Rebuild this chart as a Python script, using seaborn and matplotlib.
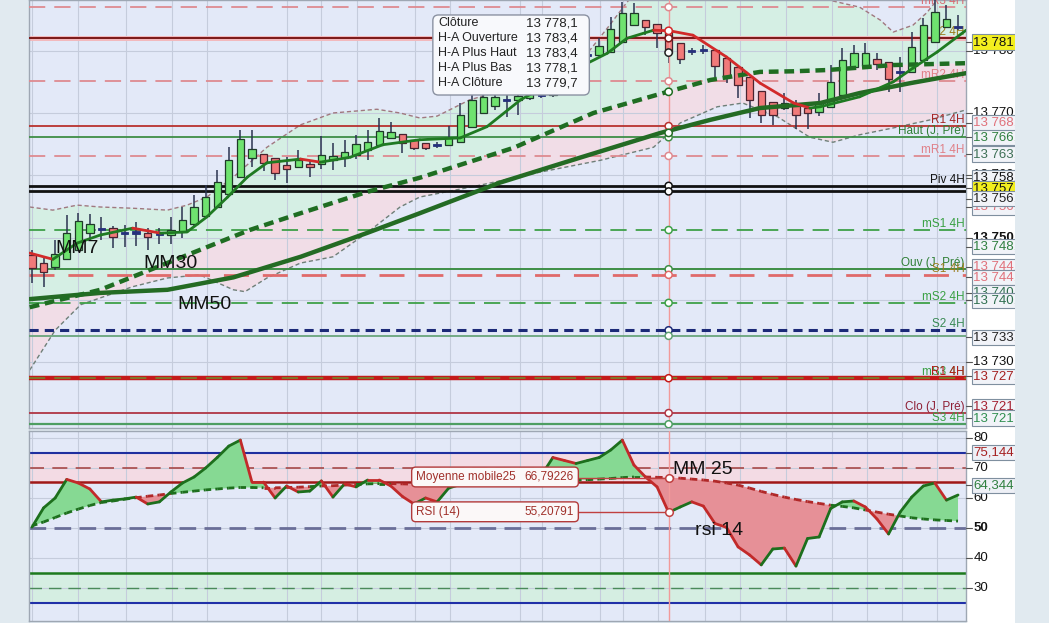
import numpy as np
import matplotlib
matplotlib.use("Agg")
import matplotlib.pyplot as plt
from matplotlib.patches import FancyBboxPatch
import seaborn as sns

# ---------------- Heikin-Ashi candles (one per bar index) ----------------
opens = [13747.2, 13745.9, 13745.3, 13746.5, 13748.0, 13750.7, 13751.2, 13751.5, 13750.6, 13750.6,
         13750.7, 13750.4, 13750.4, 13750.9, 13752.2, 13753.5, 13754.9, 13757.0, 13759.7, 13762.8,
         13763.4, 13762.8, 13761.6, 13761.3, 13761.8, 13761.8, 13762.5, 13762.8, 13763.3, 13764.1,
         13764.9, 13766.0, 13766.6, 13765.7, 13765.2, 13764.7, 13764.9, 13765.3, 13767.8, 13770.0,
         13771.1, 13771.9, 13772.1, 13772.4, 13772.7, 13772.9, 13773.7, 13778.8, 13779.2, 13779.3,
         13779.8, 13781.4, 13784.1, 13784.9, 13784.3, 13783.4, 13781.2, 13780.1, 13780.0, 13780.1,
         13778.8, 13777.4, 13775.8, 13773.5, 13771.8, 13770.8, 13771.1, 13770.8, 13770.2, 13771.0,
         13772.9, 13777.4, 13777.7, 13778.7, 13778.2, 13776.4, 13776.6, 13778.5, 13781.4, 13783.8,
         13783.6]
highs = [13748.0, 13746.9, 13749.6, 13753.6, 13753.9, 13753.8, 13753.3, 13751.9, 13752.0, 13752.5,
         13751.5, 13751.5, 13753.3, 13754.9, 13756.8, 13758.4, 13760.8, 13764.5, 13767.3, 13767.3,
         13763.4, 13762.8, 13762.9, 13764.1, 13762.3, 13766.3, 13765.2, 13765.7, 13766.5, 13767.3,
         13769.2, 13768.6, 13766.6, 13765.7, 13765.2, 13765.3, 13767.9, 13771.6, 13772.9, 13773.4,
         13773.2, 13772.9, 13773.4, 13773.4, 13773.7, 13774.5, 13778.8, 13780.1, 13781.2, 13782.1,
         13785.4, 13787.8, 13787.7, 13784.9, 13784.3, 13783.4, 13781.2, 13780.4, 13780.9, 13780.1,
         13778.8, 13777.4, 13775.8, 13773.5, 13771.8, 13773.2, 13772.1, 13771.1, 13773.2, 13777.7,
         13780.4, 13780.9, 13781.2, 13779.6, 13778.2, 13779.0, 13783.0, 13785.3, 13788.2, 13787.4,
         13785.7]
lows = [13742.7, 13742.1, 13744.8, 13746.4, 13748.0, 13749.6, 13749.6, 13748.3, 13748.5, 13748.6,
        13748.0, 13749.0, 13749.0, 13749.9, 13751.9, 13753.1, 13754.7, 13756.8, 13759.6, 13761.3,
        13760.7, 13759.2, 13758.8, 13761.3, 13759.7, 13761.0, 13760.8, 13761.3, 13762.6, 13762.5,
        13764.9, 13766.0, 13763.6, 13764.1, 13764.1, 13764.4, 13764.9, 13765.3, 13767.8, 13770.0,
        13770.5, 13769.4, 13769.7, 13772.1, 13772.4, 13772.6, 13773.4, 13777.7, 13777.4, 13779.3,
        13779.8, 13781.4, 13784.1, 13782.5, 13780.4, 13778.1, 13777.9, 13779.3, 13779.5, 13775.8,
        13774.8, 13772.4, 13769.2, 13768.4, 13768.1, 13770.5, 13767.4, 13767.4, 13769.5, 13771.0,
        13772.9, 13777.4, 13777.7, 13776.9, 13773.4, 13773.4, 13776.6, 13778.5, 13781.4, 13783.8,
        13783.3]
closes = [13745.1, 13744.5, 13747.4, 13750.7, 13752.7, 13752.2, 13751.5, 13750.1, 13750.9, 13751.0,
          13750.1, 13750.7, 13751.2, 13752.8, 13754.9, 13756.5, 13758.9, 13762.5, 13765.8, 13764.2,
          13762.0, 13760.4, 13761.0, 13762.5, 13761.3, 13763.3, 13763.1, 13763.7, 13765.0, 13765.3,
          13767.1, 13767.0, 13765.2, 13764.4, 13764.4, 13765.0, 13766.0, 13769.7, 13772.1, 13772.6,
          13772.6, 13772.3, 13772.7, 13773.1, 13773.1, 13774.0, 13777.9, 13779.2, 13779.5, 13780.8,
          13783.5, 13786.1, 13786.1, 13783.8, 13782.9, 13779.7, 13778.7, 13779.8, 13780.3, 13777.6,
          13775.9, 13774.5, 13772.1, 13769.7, 13769.7, 13771.6, 13769.7, 13770.0, 13771.6, 13775.0,
          13778.5, 13779.6, 13779.6, 13777.9, 13775.5, 13776.7, 13780.6, 13784.1, 13786.2, 13785.1,
          13784.0]

# ---------------- moving averages / bands (bar index, price) ----------------
mm7_x = [-0.2, 1.8, 3.9, 5.9, 8.7, 11.1, 13.4, 15.1, 16.9, 18.6, 20.3, 23.2, 24.9, 27.5, 30.3, 33.5,
         37.0, 39.3, 42.2, 46.5, 49.7, 51.4, 53.7, 55.1, 57.1, 60.0, 62.9, 65.8, 67.2, 68.1, 71.5,
         74.4, 76.1, 78.2, 80.7]
mm7_y = [13747.5, 13746.5, 13749.1, 13750.4, 13751.5, 13750.7, 13750.9, 13753.3, 13756.5, 13759.7,
         13762.0, 13762.6, 13762.1, 13762.9, 13764.9, 13765.7, 13766.0, 13767.8, 13772.1, 13776.6,
         13779.6, 13782.0, 13783.3, 13783.2, 13782.5, 13779.0, 13774.8, 13771.6, 13770.8, 13771.0,
         13772.6, 13775.0, 13777.2, 13779.8, 13783.3]
mm30_x = [-0.2, 5.9, 10.2, 14.5, 18.8, 23.2, 28.9, 33.5, 41.6, 48.5, 54.9, 58.6, 62.9, 65.8, 68.7, 74.4, 80.7]
mm30_y = [13738.8, 13741.6, 13744.8, 13748.0, 13751.2, 13753.9, 13757.3, 13759.6, 13764.4, 13770.0,
          13773.4, 13775.3, 13776.6, 13776.7, 13776.9, 13777.7, 13778.0]
mm50_x = [-0.2, 5.9, 11.7, 17.4, 23.2, 28.9, 33.5, 40.4, 47.3, 54.3, 58.6, 62.9, 68.1, 71.5, 75.9, 80.7]
mm50_y = [13740.1, 13741.1, 13741.6, 13743.6, 13746.9, 13750.7, 13753.9, 13758.8, 13762.8, 13766.8,
          13768.9, 13770.8, 13771.6, 13773.2, 13774.8, 13776.4]
up_x = [-0.2, 1.8, 3.9, 5.9, 8.7, 11.7, 13.4, 15.1, 17.4, 20.3, 23.2, 26.0, 29.8, 31.8, 33.5, 35.0,
        37.8, 42.2, 45.6, 48.2, 49.9, 51.2, 54.3, 62.9, 68.7, 71.5, 73.3, 74.4, 76.1, 77.3, 78.2, 80.7]
up_y = [13754.9, 13754.4, 13755.2, 13754.9, 13754.7, 13754.4, 13755.2, 13756.5, 13759.7, 13764.5,
        13768.1, 13770.0, 13770.6, 13770.0, 13769.2, 13769.5, 13772.1, 13774.5, 13777.2, 13780.1,
        13784.1, 13787.3, 13794.6, 13794.6, 13788.2, 13787.0, 13784.9, 13783.0, 13784.1, 13786.1,
        13788.2, 13792.0]
lo_x = [-0.2, 2.0, 4.2, 5.9, 8.7, 11.7, 14.5, 17.4, 18.4, 20.3, 23.2, 26.0, 28.9, 31.8, 33.5, 38.7,
        43.9, 49.1, 53.7, 56.0, 59.2, 61.4, 64.4, 67.2, 69.2, 71.5, 74.4, 77.6, 80.7]
lo_y = [13728.7, 13735.1, 13739.2, 13740.3, 13742.1, 13743.5, 13744.0, 13741.6, 13741.3, 13743.5,
        13745.9, 13746.9, 13750.7, 13754.9, 13756.5, 13758.4, 13760.5, 13762.4, 13764.5, 13768.4,
        13771.0, 13771.6, 13769.4, 13766.1, 13765.3, 13766.5, 13767.6, 13768.9, 13770.5]

# ---------------- pivot / reference levels ----------------
level_vals = [13787.0, 13782.0, 13775.1, 13767.9, 13766.1, 13763.1, 13758.3, 13757.4, 13751.2,
              13744.9, 13744.0, 13739.5, 13735.1, 13734.2, 13727.4, 13721.8, 13720.0]
level_names = ["mR3 4H", "R2 4H", "mR2 4H", "R1 4H", "Haut (J, Pré)", "mR1 4H", "Piv 4H", "",
               "mS1 4H", "Ouv (J, Pré)", "S1 4H", "mS2 4H", "S2 4H", "", "R1 4H", "Clo (J, Pré)", "S3 4H"]

# right-hand price boxes
box_vals = [13781.4, 13768.4, 13766.1, 13763.4, 13759.6, 13757.9, 13754.9, 13756.2, 13748.5,
            13745.3, 13743.6, 13741.1, 13739.9, 13734.0, 13727.7, 13722.9, 13721.0]
box_texts = ["13 781,7", "13 768,4", "13 766,1", "13 763,0", "13 758,3", "13 757,4", "13 756,0",
             "13 756,5", "13 748,5", "13 744,9", "13 744,0", "13 740,0", "13 740,1", "13 733,8",
             "13 727,4", "13 721,8", "13 721,6"]
price_ticks = [13780, 13770, 13760, 13750, 13740, 13730]

# tooltip
tip_names = ["Clôture", "H-A Ouverture", "H-A Plus Haut", "H-A Plus Bas", "H-A Clôture"]
tip_values = ["13 778,1", "13 783,4", "13 783,4", "13 778,1", "13 779,7"]
cross_bar = 55
cross_marks = [13783.2, 13773.4, 13766.8, 13779.7]   # MM7, MM30, MM50, close at crosshair

# ---------------- RSI panel ----------------
rsi_vals = [50.3, 56.7, 60.0, 66.2, 65.0, 63.0, 58.7, 59.3, 59.7, 60.3,
            58.0, 58.7, 62.0, 65.0, 67.0, 70.0, 73.5, 77.3, 79.3, 65.3,
            65.3, 60.0, 64.0, 62.0, 62.3, 65.7, 60.3, 64.7, 63.7, 66.0,
            66.0, 64.0, 60.5, 58.0, 60.0, 58.7, 63.3, 64.5, 65.5, 65.0,
            66.0, 66.5, 67.0, 67.3, 67.5, 73.5, 72.5, 71.5, 72.5, 73.5,
            76.0, 79.3, 71.0, 67.0, 63.7, 55.2, 57.0, 58.7, 57.3, 51.5,
            50.2, 43.7, 41.0, 37.7, 43.0, 43.3, 37.3, 46.5, 47.0, 56.5,
            58.7, 59.0, 57.0, 53.0, 48.0, 55.3, 60.3, 64.0, 65.0, 59.3,
            61.0]
mm25_vals = [50.7, 52.0, 53.5, 55.0, 56.3, 57.5, 58.5, 59.0, 59.6, 60.1,
             60.6, 61.0, 61.5, 61.9, 62.3, 62.7, 63.0, 63.3, 63.5, 63.5,
             63.4, 63.4, 63.5, 63.6, 63.8, 64.0, 64.1, 64.3, 64.5, 64.7,
             64.8, 64.8, 64.7, 64.6, 64.6, 64.7, 64.9, 65.0, 65.1, 65.2,
             65.3, 65.4, 65.5, 65.6, 65.7, 65.8, 65.9, 66.0, 66.1, 66.3,
             66.5, 66.8, 67.0, 67.0, 66.9, 66.8, 66.6, 66.3, 66.0, 65.6,
             65.0, 64.3, 63.3, 62.2, 61.2, 60.3, 59.5, 58.8, 58.2, 57.6,
             57.2, 56.7, 56.0, 55.3, 54.6, 54.0, 53.4, 53.0, 52.7, 52.5,
             52.3]
rsi_ticks = [80, 70, 60, 50, 40, 30]
rsi_box_vals = [75.1, 64.3]
rsi_box_texts = ["75,144", "64,344"]
grid_idx = [0, 4, 8.1, 12.1, 15.1, 22, 25, 28.1, 33.1, 36.1, 42.2, 44.1, 49.1, 51.1, 54.1,
            58.1, 61.2, 65.1, 69.1, 72.1, 75.2, 78.2]

# ---------------- styling ----------------
sns.set_theme(style="white")
plt.rcParams["font.family"] = ["Liberation Sans", "DejaVu Sans"]

DASH = (0, (9, 5))
SDASH = (0, (3, 2))
level_colors = ["#de8a90", "#7a1818", "#de8a90", "#b8322f", "#3e8e46", "#de8a90", "#111111", "#111111",
                "#3ea048", "#3e8e46", "#e06a6a", "#3ea048", "#1c2a78", "#5f9f72", "#c41a1a", "#b03545",
                "#4e9e62"]
level_ls = [DASH, "-", DASH, "-", "-", DASH, "-", "-", DASH, "-", DASH, DASH, SDASH, "-", "-", "-", "-"]
level_lw = [1.3, 1.4, 1.3, 1.3, 1.3, 1.3, 2.0, 2.0, 1.3, 1.4, 2.0, 1.3, 2.2, 1.2, 3.2, 1.3, 1.6]
name_colors = ["#d86c74", "#9a7d1e", "#e08088", "#a62626", "#2f7f35", "#e08088", "#111111", "#111111",
               "#39a043", "#2f7f35", "#9a7d1e", "#39a043", "#3a8a55", "#111111", "#b81c1c", "#8e1f35",
               "#39a043"]
box_txt_colors = ["#111111", "#e0707a", "#2f7f3f", "#3d6f55", "#111111", "#111111", "#e0707a", "#222222",
                  "#2f7f3f", "#e0707a", "#e0707a", "#2f6f4f", "#2f6f4f", "#222222", "#a52020", "#a52030",
                  "#2f8f4f"]
box_faces = ["#f3ef1e", "#f1f3f8", "#f1f3f8", "#f1f3f8", "#f1f3f8", "#f3ef1e", "#f1f3f8", "#f1f3f8",
             "#f1f3f8", "#f1f3f8", "#f1f3f8", "#f1f3f8", "#f1f3f8", "#f1f3f8", "#f1f3f8", "#f1f3f8",
             "#f1f3f8"]
GREEN_L = "#1f7a22"
RED_L = "#d22a2a"
BG = "#e3e9f8"

W, H = 1049, 623
fig = plt.figure(figsize=(W / 100, H / 100), dpi=100, facecolor="#e1eaf0")

white = fig.add_axes([966 / W, 0, 49 / W, 1])
white.set_facecolor("white")
white.set_xticks([])
white.set_yticks([])
for s in white.spines.values():
    s.set_visible(False)

ax = fig.add_axes([29 / W, 195 / H, 937 / W, 428 / H])
ax_r = fig.add_axes([29 / W, 2 / H, 937 / W, 190 / H])
lab = fig.add_axes([966 / W, 195 / H, 49 / W, 428 / H])
lab_r = fig.add_axes([966 / W, 2 / H, 49 / W, 190 / H])

for a in (ax, ax_r):
    a.set_facecolor(BG)
    a.set_xticks([])
    a.set_yticks([])
    for s in a.spines.values():
        s.set_color("#9ea7b3")
        s.set_linewidth(1)
    for g in grid_idx:
        a.axvline(g, color="#c5ccdc", lw=0.8, zorder=1.5)
    a.axvline(cross_bar, color="#f29a9a", lw=1, zorder=8)

# ---------------- main price panel ----------------
for t in price_ticks:
    ax.axhline(t, color="#c5ccdc", lw=0.8, zorder=1.5)

# bollinger fills: upper band -> MM30 mint, MM30 -> lower band pink
ax.fill(np.r_[up_x, mm30_x[::-1]], np.r_[up_y, mm30_y[::-1]], color="#d5efe4", lw=0, zorder=1)
ax.fill(np.r_[mm30_x, lo_x[::-1]], np.r_[mm30_y, lo_y[::-1]], color="#f1dde7", lw=0, zorder=1)
ax.plot(up_x, up_y, color="#a07880", lw=1, ls=SDASH, zorder=2)
ax.plot(lo_x, lo_y, color="#6f7f78", lw=1, ls=SDASH, zorder=2)

# levels
ax.axhline(level_vals[1], color="#f2b9bd", lw=3.6, zorder=2.5)
for v, c, ls, lw in zip(level_vals, level_colors, level_ls, level_lw):
    ax.axhline(v, color=c, ls=ls, lw=lw, zorder=3)
ax.axhline(level_vals[14], color="#7a7f2a", ls=DASH, lw=1.3, zorder=3.1)

ax.text(80.55, level_vals[14], "mS3 4H", ha="right", va="bottom", fontsize=8.5, color="#39a043", zorder=4)
for v, n, c in zip(level_vals, level_names, name_colors):
    if n:
        ax.text(80.55, v, n, ha="right", va="bottom", fontsize=8.5, color=c, zorder=4)

# candles
xi = np.arange(len(opens))
o, h, l, c = (np.array(a_) for a_ in (opens, highs, lows, closes))
body_lo = np.minimum(o, c)
body_h = np.abs(c - o)
doji = body_h < 0.45
up = (c > o) & ~doji
dn = (c < o) & ~doji
ax.vlines(xi, l, h, color="#2b3350", lw=1.1, zorder=5)
ax.bar(xi[up], body_h[up], bottom=body_lo[up], width=0.64, color="#6fe36f",
       edgecolor="#1f3a2a", lw=0.9, zorder=6)
ax.bar(xi[dn], body_h[dn], bottom=body_lo[dn], width=0.64, color="#f27a7a",
       edgecolor="#4a2430", lw=0.9, zorder=6)
mid = (o + c) / 2
ax.bar(xi[doji], 0.35, bottom=mid[doji] - 0.175, width=0.64, color="#26307c",
       edgecolor="#26307c", lw=0.6, zorder=6)

# moving averages
sns.lineplot(x=mm50_x, y=mm50_y, ax=ax, color="#246b24", lw=3.2, sort=False,
             errorbar=None, zorder=7)
ax.plot(mm30_x, mm30_y, color="#1f6d22", lw=3.2, ls=(0, (2.2, 1.3)), zorder=7)
for k in range(len(mm7_x) - 1):
    col = GREEN_L if mm7_y[k + 1] >= mm7_y[k] else RED_L
    ax.plot(mm7_x[k:k + 2], mm7_y[k:k + 2], color=col, lw=2, solid_capstyle="round", zorder=7.5)

# crosshair markers
ax.scatter([cross_bar] * len(level_vals), level_vals, s=26, facecolor="white",
           edgecolor=level_colors, lw=1.1, zorder=9)
ax.scatter([cross_bar] * len(cross_marks), cross_marks, s=28, facecolor="white",
           edgecolor=[RED_L, "#1f6d22", "#246b24", "#222222"], lw=1.1, zorder=9)

ax.text(2.0, 13748.2, "MM7", fontsize=14, va="center", color="#111111", zorder=10)
ax.text(9.6, 13745.8, "MM30", fontsize=14, va="center", color="#111111", zorder=10)
ax.text(12.6, 13739.2, "MM50", fontsize=14, va="center", color="#111111", zorder=10)

# tooltip
tip = FancyBboxPatch((0.431, 0.778), 0.167, 0.187, boxstyle="round,pad=0,rounding_size=0.006",
                     transform=ax.transAxes, fc="#f8f9fc", ec="#8b92a2", lw=1, zorder=20,
                     mutation_aspect=937 / 428)
ax.add_patch(tip)
for k, (n, v) in enumerate(zip(tip_names, tip_values)):
    yy = 0.946 - k * 0.035
    ax.text(0.4365, yy, n, transform=ax.transAxes, fontsize=9, va="center", color="#222222", zorder=21)
    ax.text(0.586, yy, v, transform=ax.transAxes, fontsize=9.5, va="center", ha="right",
            color="#222222", zorder=21)

# ---------------- RSI panel ----------------
for t in rsi_ticks:
    ax_r.axhline(t, color="#c5ccdc", lw=0.8, zorder=1.5)
ax_r.axhspan(65.3, 75.1, color="#f3dbe4", lw=0, zorder=1)
ax_r.axhspan(25, 35, color="#d5eee2", lw=0, zorder=1)
ax_r.axhline(75.1, color="#1f2f9f", lw=1.5, zorder=2)
ax_r.axhline(70, color="#a84848", lw=1.2, ls=DASH, zorder=2)
ax_r.axhline(65.3, color="#a01818", lw=1.8, zorder=2)
ax_r.axhline(50, color="#6a6e98", lw=2, ls=(0, (6, 3)), zorder=2)
ax_r.axhline(35, color="#1d7a1d", lw=1.8, zorder=2)
ax_r.axhline(30, color="#4a8a5a", lw=1, ls=DASH, zorder=2)
ax_r.axhline(25, color="#2030a8", lw=1.5, zorder=2)

rsi = np.array(rsi_vals)
mm = np.array(mm25_vals)
xr = np.arange(len(rsi))
ax_r.fill_between(xr, rsi, mm, where=rsi >= mm, interpolate=True, color="#86d993", lw=0, zorder=3)
ax_r.fill_between(xr, rsi, mm, where=rsi < mm, interpolate=True, color="#e69097", lw=0, zorder=3)
for k in range(len(xr) - 1):
    above = rsi[k] + rsi[k + 1] >= mm[k] + mm[k + 1]
    ax_r.plot(xr[k:k + 2], mm[k:k + 2], color="#1d6f1d" if above else "#b02828", lw=2,
              ls=(0, (2, 1.5)), zorder=4)
    col = "#1d6f1d" if rsi[k + 1] > rsi[k] else "#c22a2a"
    ax_r.plot(xr[k:k + 2], rsi[k:k + 2], color=col, lw=2, solid_capstyle="round", zorder=5)

# value boxes on the RSI crosshair
for name, val, yc in [("Moyenne mobile25", "66,79226", 66.8), ("RSI (14)", "55,20791", 55.2)]:
    ax_r.plot([47.2, cross_bar], [yc, yc], color="#c04040", lw=1, zorder=6)
    bx = FancyBboxPatch((32.8, yc + 0.2 - 3.3), 14.4, 6.6, boxstyle="round,pad=0,rounding_size=0.35",
                        mutation_aspect=3.86, fc="#fbf8f8", ec="#b23a3a", lw=1, zorder=7)
    ax_r.add_patch(bx)
    ax_r.text(33.2, yc + 0.2, name, fontsize=8.5, va="center", color="#a0302a", zorder=8)
    ax_r.text(46.8, yc + 0.2, val, fontsize=8.5, va="center", ha="right", color="#a0302a", zorder=8)
ax_r.scatter([cross_bar, cross_bar], [66.8, 55.2], s=30, facecolor="white", edgecolor="#c04040",
             lw=1.1, zorder=9)
ax_r.text(55.4, 69.5, "MM 25", fontsize=14, va="center", color="#111111", zorder=10)
ax_r.text(57.3, 49.3, "rsi 14", fontsize=14, va="center", color="#111111", zorder=10)

ax.set_xlim(-0.26, 80.69)
ax_r.set_xlim(-0.26, 80.69)
ax.set_ylim(13719.4, 13788.15)
ax_r.set_ylim(19.0, 82.33)
ax.set_xlabel("")
ax.set_ylabel("")

# ---------------- right-hand label columns ----------------
for a, src in ((lab, ax), (lab_r, ax_r)):
    a.axis("off")
    a.set_xlim(0, 1)
    a.set_ylim(src.get_ylim())

for t in price_ticks:
    lab.plot([0, 0.12], [t, t], color="#555555", lw=0.8, clip_on=True)
    lab.text(0.15, t, f"{t // 1000} {t % 1000:03d}", fontsize=9.5, va="center", color="#111111",
             fontweight="bold" if t == 13750 else "normal", clip_on=True, zorder=2)
for v, s, tc, fc in zip(box_vals, box_texts, box_txt_colors, box_faces):
    lab.plot([0, 0.14], [v, v], color="#555555", lw=0.8, zorder=3)
    lab.text(0.15, v, s, fontsize=9.5, va="center", color=tc, clip_on=True, zorder=4,
             bbox=dict(boxstyle="square,pad=0.12", fc=fc, ec="#7f8f9f", lw=0.8))

for t in rsi_ticks:
    lab_r.plot([0, 0.12], [t, t], color="#555555", lw=0.8)
    lab_r.text(0.15, t, str(t), fontsize=9.5, va="center", color="#111111",
               fontweight="bold" if t == 50 else "normal", clip_on=True, zorder=2)
for v, s, tc in zip(rsi_box_vals, rsi_box_texts, ["#a52020", "#2f7f3f"]):
    lab_r.plot([0, 0.14], [v, v], color="#555555", lw=0.8, zorder=3)
    lab_r.text(0.15, v, s, fontsize=9.5, va="center", color=tc, clip_on=True, zorder=4,
               bbox=dict(boxstyle="square,pad=0.12", fc="#eef0f6", ec="#7f8f9f", lw=0.8))

fig.savefig("out.png", dpi=100, facecolor=fig.get_facecolor())
